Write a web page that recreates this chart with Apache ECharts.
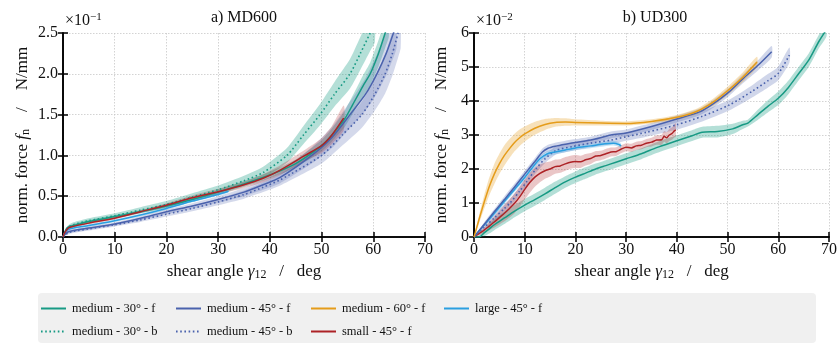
<!DOCTYPE html>
<html><head><meta charset="utf-8">
<script src="https://cdn.jsdelivr.net/npm/echarts@6/dist/echarts.min.js"></script>
<style>html,body{margin:0;padding:0;background:#fff}#c{width:840px;height:344px}</style>
</head><body><div id="c"></div>
<script>
// ---------- tick labels / categories ----------
const xTicks = [0,10,20,30,40,50,60,70];
const yTicksMD = [0.0,0.5,1.0,1.5,2.0,2.5];
const yTicksUD = [0,1,2,3,4,5,6];
const seriesNames = ['medium - 30° - f','medium - 30° - b','medium - 45° - f','medium - 45° - b','medium - 60° - f','small - 45° - f','large - 45° - f'];

// ---------- a) MD600 (values x10^-1 N/mm) ----------
const md_m30f_x = [0,0.5,1,2,5,10,15,20,25,30,35,40,45,50,52,54.5,56,58,59.4,61,62.3,63];
const md_m30f_y = [0,0.08,0.12,0.14,0.19,0.25,0.31,0.38,0.46,0.55,0.65,0.76,0.9,1.12,1.25,1.45,1.62,1.85,2.0,2.25,2.5,2.65];
const md_m30f_s = [0,0.01,0.015,0.02,0.02,0.02,0.02,0.025,0.03,0.03,0.035,0.04,0.05,0.07,0.08,0.1,0.11,0.13,0.14,0.16,0.18,0.2];

const md_m30b_x = [0,0.5,1,2,5,10,15,20,25,30,35,38.7,43.3,46.5,49.7,52.5,55.5,57.5,59.4,60.3];
const md_m30b_y = [0,0.08,0.12,0.15,0.2,0.26,0.33,0.40,0.49,0.58,0.69,0.79,1.0,1.25,1.5,1.75,2.0,2.25,2.5,2.62];
const md_m30b_s = [0,0.02,0.025,0.03,0.03,0.03,0.035,0.04,0.045,0.05,0.06,0.07,0.09,0.11,0.13,0.15,0.18,0.2,0.22,0.23];

const md_m45f_x = [0,0.5,1,2,5,10,15,20,25,30,35,38.7,42,48.1,52,55.5,58.5,60.7,62.5,63.9,64.5];
const md_m45f_y = [0,0.04,0.065,0.08,0.11,0.16,0.23,0.31,0.38,0.46,0.55,0.64,0.73,1.0,1.22,1.5,1.75,2.0,2.25,2.5,2.62];
const md_m45f_s = [0,0.01,0.015,0.02,0.02,0.02,0.025,0.03,0.035,0.04,0.05,0.06,0.07,0.1,0.13,0.16,0.2,0.24,0.27,0.3,0.3];

const md_m45b_x = [0,0.5,1,2,5,10,15,20,25,30,35,38.7,42,50,54,57.8,60.3,62.3,63.7,64.8,65.3];
const md_m45b_y = [0,0.03,0.05,0.07,0.1,0.15,0.21,0.28,0.35,0.43,0.52,0.61,0.7,1.0,1.25,1.5,1.75,2.0,2.25,2.5,2.62];
const md_m45b_s = [0,0.01,0.015,0.02,0.02,0.02,0.025,0.03,0.035,0.04,0.05,0.06,0.07,0.1,0.13,0.16,0.2,0.24,0.27,0.3,0.3];

const md_s45f_x = [0,0.3,1,2,5,10,15,20,25,30,35,38.7,42,46.8,50,52,54.3];
const md_s45f_y = [0,0.05,0.11,0.13,0.17,0.23,0.31,0.39,0.48,0.555,0.64,0.72,0.82,1.0,1.12,1.25,1.46];
const md_s45f_s = [0,0.01,0.01,0.01,0.015,0.015,0.02,0.025,0.03,0.035,0.04,0.05,0.06,0.07,0.09,0.11,0.15];

const md_l45f_x = [0,0.3,1,2,5,10,15,20,25,30,32];
const md_l45f_y = [0,0.05,0.09,0.11,0.14,0.2,0.27,0.35,0.44,0.52,0.56];
const md_l45f_s = [0,0.01,0.01,0.012,0.015,0.015,0.015,0.015,0.015,0.015,0.015];

// ---------- b) UD300 (values x10^-2 N/mm) ----------
const ud_m30f_x = [0,1,2,3,4,6,8,10,12,14,16,18,20,22,24,26,28,30,33,36,40,43,45,48,51,53,54,56,58,60,62,64,66,68,69.5];
const ud_m30f_y = [0,0,0.12,0.24,0.36,0.56,0.76,0.94,1.1,1.27,1.45,1.62,1.76,1.88,2.0,2.1,2.2,2.3,2.45,2.63,2.83,2.98,3.08,3.1,3.18,3.3,3.35,3.6,3.85,4.08,4.4,4.8,5.2,5.75,6.1];
const ud_m30f_s = [0,0.05,0.1,0.14,0.16,0.18,0.18,0.18,0.18,0.18,0.18,0.17,0.17,0.17,0.16,0.16,0.16,0.16,0.16,0.16,0.16,0.16,0.16,0.17,0.15,0.12,0.1,0.15,0.18,0.2,0.2,0.2,0.2,0.2,0.2];

const ud_m45f_x = [0,2,4,6,8,10,12,13.5,14.6,16,18,20,23,27,30,35,40,44.5,47,50.3,53,56,58.7];
const ud_m45f_y = [0,0.37,0.74,1.1,1.47,1.85,2.22,2.5,2.61,2.67,2.73,2.78,2.85,3.0,3.06,3.25,3.47,3.68,3.9,4.27,4.65,5.05,5.45];
const ud_m45f_s = [0,0.06,0.08,0.1,0.1,0.1,0.1,0.1,0.1,0.1,0.1,0.1,0.1,0.1,0.1,0.1,0.1,0.1,0.11,0.12,0.13,0.15,0.17];

const ud_m45b_x = [0,2,4,6,7.1,9,10.5,12.2,14,16.2,19.4,23,27,30,34,40,45,50.3,55,58,60,62.2];
const ud_m45b_y = [0,0.28,0.56,0.84,1.0,1.35,1.65,2.0,2.3,2.55,2.66,2.76,2.85,2.95,3.08,3.3,3.55,3.88,4.3,4.6,4.81,5.35];
const ud_m45b_s = [0,0.06,0.1,0.12,0.12,0.12,0.12,0.12,0.12,0.12,0.12,0.12,0.12,0.12,0.13,0.14,0.15,0.16,0.18,0.2,0.2,0.22];

const ud_m60f_x = [0,1,2,3,4,5,6,7,8,9,10,12,14,16,18,20,25,30,35,40,44,47,50,53,55.8];
const ud_m60f_y = [0,0.52,1.02,1.48,1.85,2.15,2.4,2.6,2.78,2.92,3.03,3.2,3.31,3.37,3.38,3.37,3.35,3.34,3.4,3.52,3.7,3.95,4.3,4.7,5.15];
const ud_m60f_s = [0,0.12,0.2,0.26,0.3,0.3,0.3,0.28,0.26,0.24,0.22,0.19,0.16,0.13,0.11,0.09,0.07,0.06,0.06,0.07,0.08,0.1,0.12,0.14,0.15];

const ud_s45f_x = [0,1,2,3,4,5,6,7,8,9,10,11,12,13,14,15,16,17,18,19,20,21,22,23,24,25,26,27,28,29,30,31,32,33,34,35,36,37,37.5,38,38.5,39,39.5,39.8];
const ud_s45f_y = [0,0.1,0.2,0.32,0.44,0.57,0.7,0.84,0.99,1.18,1.4,1.6,1.76,1.87,1.95,2.0,2.07,2.09,2.15,2.2,2.22,2.21,2.27,2.31,2.38,2.4,2.45,2.5,2.51,2.58,2.64,2.62,2.68,2.7,2.76,2.79,2.85,2.86,2.96,2.92,3.0,3.04,3.12,3.15];
const ud_s45f_s = [0,0.05,0.08,0.12,0.16,0.2,0.24,0.27,0.29,0.3,0.3,0.3,0.28,0.26,0.24,0.22,0.21,0.2,0.2,0.19,0.19,0.18,0.17,0.16,0.15,0.14,0.14,0.13,0.13,0.12,0.12,0.12,0.12,0.12,0.12,0.13,0.14,0.15,0.16,0.17,0.18,0.18,0.19,0.2];

const ud_l45f_x = [0,2,4,6,8,10,11.3,13,14.5,16,18,20,23,25.8,27.5,28.6,29];
const ud_l45f_y = [0,0.35,0.7,1.05,1.4,1.75,2.0,2.3,2.45,2.5,2.56,2.62,2.68,2.74,2.76,2.72,2.68];
const ud_l45f_s = [0,0.05,0.07,0.08,0.08,0.08,0.08,0.08,0.08,0.07,0.07,0.07,0.07,0.07,0.07,0.07,0.07];

// ---------- styles ----------
const C = { teal:'#179a84', blue:'#4a62ad', orange:'#e59c1a', sky:'#2a9fe0', red:'#ad2226' };
const FONT = 'Liberation Serif';

const chart = echarts.init(document.getElementById('c'), null, {renderer:'canvas'});

function pairs(xs, ys){ return xs.map((x,i)=>[x, ys[i]]); }

function band(gi, xs, ys, ss, color, op){
  return {
    type:'custom', xAxisIndex:gi*2, yAxisIndex:gi*2, clip:true, silent:true, z:1,
    data: pairs(xs, ys), encode:{x:0,y:1},
    renderItem: function(params, api){
      if (params.dataIndex !== 0) return;
      const up = [], lo = [];
      for (let i=0;i<xs.length;i++){
        up.push(api.coord([xs[i], ys[i]+ss[i]]));
        lo.push(api.coord([xs[i], Math.max(ys[i]-ss[i], 0)]));
      }
      return {type:'polygon', shape:{points: up.concat(lo.reverse()), smooth:0.2},
              style:{fill: color, opacity: op}};
    }
  };
}
function line(gi, name, xs, ys, color, dotted){
  return {
    type:'line', name, xAxisIndex:gi*2, yAxisIndex:gi*2, data: pairs(xs, ys),
    symbol:'none', smooth:0.25, z:3, silent:true,
    lineStyle: dotted ? {color, width:1.6, type:[1.6,2.6]} : {color, width:1.5},
    itemStyle:{color}
  };
}

const series = [
  band(0, md_m30b_x, md_m30b_y, md_m30b_s, C.teal, 0.32),
  band(0, md_m30f_x, md_m30f_y, md_m30f_s, C.teal, 0.32),
  band(0, md_m45f_x, md_m45f_y, md_m45f_s, C.blue, 0.24),
  band(0, md_m45b_x, md_m45b_y, md_m45b_s, C.blue, 0.24),
  band(0, md_s45f_x, md_s45f_y, md_s45f_s, C.red, 0.24),
  band(0, md_l45f_x, md_l45f_y, md_l45f_s, C.sky, 0.25),
  line(0, seriesNames[1], md_m30b_x, md_m30b_y, C.teal, true),
  line(0, seriesNames[3], md_m45b_x, md_m45b_y, C.blue, true),
  line(0, seriesNames[2], md_m45f_x, md_m45f_y, C.blue, false),
  line(0, seriesNames[0], md_m30f_x, md_m30f_y, C.teal, false),
  line(0, seriesNames[6], md_l45f_x, md_l45f_y, C.sky, false),
  line(0, seriesNames[5], md_s45f_x, md_s45f_y, C.red, false),

  band(1, ud_m30f_x, ud_m30f_y, ud_m30f_s, C.teal, 0.32),
  band(1, ud_m45f_x, ud_m45f_y, ud_m45f_s, C.blue, 0.26),
  band(1, ud_m45b_x, ud_m45b_y, ud_m45b_s, C.blue, 0.26),
  band(1, ud_m60f_x, ud_m60f_y, ud_m60f_s, C.orange, 0.3),
  band(1, ud_s45f_x, ud_s45f_y, ud_s45f_s, C.red, 0.26),
  band(1, ud_l45f_x, ud_l45f_y, ud_l45f_s, C.sky, 0.26),
  line(1, seriesNames[0], ud_m30f_x, ud_m30f_y, C.teal, false),
  line(1, seriesNames[3], ud_m45b_x, ud_m45b_y, C.blue, true),
  line(1, seriesNames[5], ud_s45f_x, ud_s45f_y, C.red, false),
  line(1, seriesNames[6], ud_l45f_x, ud_l45f_y, C.sky, false),
  line(1, seriesNames[2], ud_m45f_x, ud_m45f_y, C.blue, false),
  line(1, seriesNames[4], ud_m60f_x, ud_m60f_y, C.orange, false),
];

const axLine = {show:true, lineStyle:{color:'#000', width:1.6}};
const tick = {show:true, inside:true, length:5, lineStyle:{color:'#000', width:1.5}};
const split = {show:true, lineStyle:{color:'#c8c8c8', width:0.8, type:[1.5,1.5]}};
const lbl = {color:'#111', fontFamily:FONT, fontSize:16, margin:5};
const nameRich = {
  r:{fontFamily:FONT, fontSize:17, color:'#111', lineHeight:18},
  i:{fontFamily:FONT, fontSize:17, color:'#111', fontStyle:'italic', lineHeight:18},
  s:{fontFamily:FONT, fontSize:12, color:'#111', lineHeight:12, verticalAlign:'bottom'}
};
const xName = '{r|shear angle }{i|γ}{s|12}{r|   /   deg}';
const yName = '{r|norm. force }{i|f}{s|n}{r|    /    N/mm}';

function xAxes(gi){
  return [
    {type:'value', gridIndex:gi, min:0, max:70, interval:10, position:'bottom',
     axisLine:axLine, axisTick:tick, splitLine:split, axisLabel:lbl,
     name:xName, nameLocation:'middle', nameGap:25, nameTextStyle:{rich:nameRich}},
    {type:'value', gridIndex:gi, min:0, max:70, interval:10, position:'top',
     axisLine:axLine, axisTick:tick, splitLine:{show:false}, axisLabel:{show:false}}
  ];
}
function yAxes(gi, max, interval, fmt, gap){
  return [
    {type:'value', gridIndex:gi, min:0, max, interval, position:'left',
     axisLine:axLine, axisTick:tick, splitLine:split,
     axisLabel:{...lbl, formatter:fmt},
     name:yName, nameLocation:'middle', nameGap:gap, nameTextStyle:{rich:nameRich}},
    {type:'value', gridIndex:gi, min:0, max, interval, position:'right',
     axisLine:axLine, axisTick:tick, splitLine:{show:false}, axisLabel:{show:false}}
  ];
}

const legendCommon = {
  orient:'vertical', top:302, height:42, padding:0, itemWidth:25, itemHeight:14, itemGap:10,
  itemStyle:{opacity:0},
  textStyle:{fontFamily:FONT, fontSize:12.5, color:'#111', padding:[0,0,0,1]},
  selectedMode:false
};

const option = {
  animation:false,
  backgroundColor:'#fff',
  grid:[
    {left:63, top:33, width:362, height:204, containLabel:false},
    {left:474, top:33, width:361, height:204, containLabel:false}
  ],
  xAxis:[...xAxes(0), ...xAxes(1)],
  yAxis:[...yAxes(0, yTicksMD[yTicksMD.length-1], 0.5, v=>v.toFixed(1), 31),
         ...yAxes(1, yTicksUD[yTicksUD.length-1], 1, v=>String(v), 23)],
  legend:[
    {...legendCommon, left:40, data:[seriesNames[0], seriesNames[1]]},
    {...legendCommon, left:175, data:[seriesNames[2], seriesNames[3]]},
    {...legendCommon, left:310, data:[seriesNames[4], seriesNames[5]]},
    {...legendCommon, left:443, data:[seriesNames[6]]}
  ],
  graphic:[
    {type:'rect', left:38, top:293, shape:{width:778, height:50, r:4}, style:{fill:'#f0f0f0'}, z:-10, silent:true},
    {type:'text', x:244, y:18, style:{text:'a) MD600', font:'16px "Liberation Serif"', fill:'#111', textAlign:'center', textVerticalAlign:'middle'}},
    {type:'text', x:655, y:18, style:{text:'b) UD300', font:'16px "Liberation Serif"', fill:'#111', textAlign:'center', textVerticalAlign:'middle'}},
    {type:'text', x:65, y:21, style:{text:'{r|×10}{p|−1}', textVerticalAlign:'middle', rich:{
      r:{fontFamily:FONT, fontSize:16, fill:'#111', lineHeight:18}, p:{fontFamily:FONT, fontSize:11, fill:'#111', lineHeight:11, verticalAlign:'top'}}}},
    {type:'text', x:476, y:21, style:{text:'{r|×10}{p|−2}', textVerticalAlign:'middle', rich:{
      r:{fontFamily:FONT, fontSize:16, fill:'#111', lineHeight:18}, p:{fontFamily:FONT, fontSize:11, fill:'#111', lineHeight:11, verticalAlign:'top'}}}}
  ],
  series
};
chart.setOption(option);
</script></body></html>
